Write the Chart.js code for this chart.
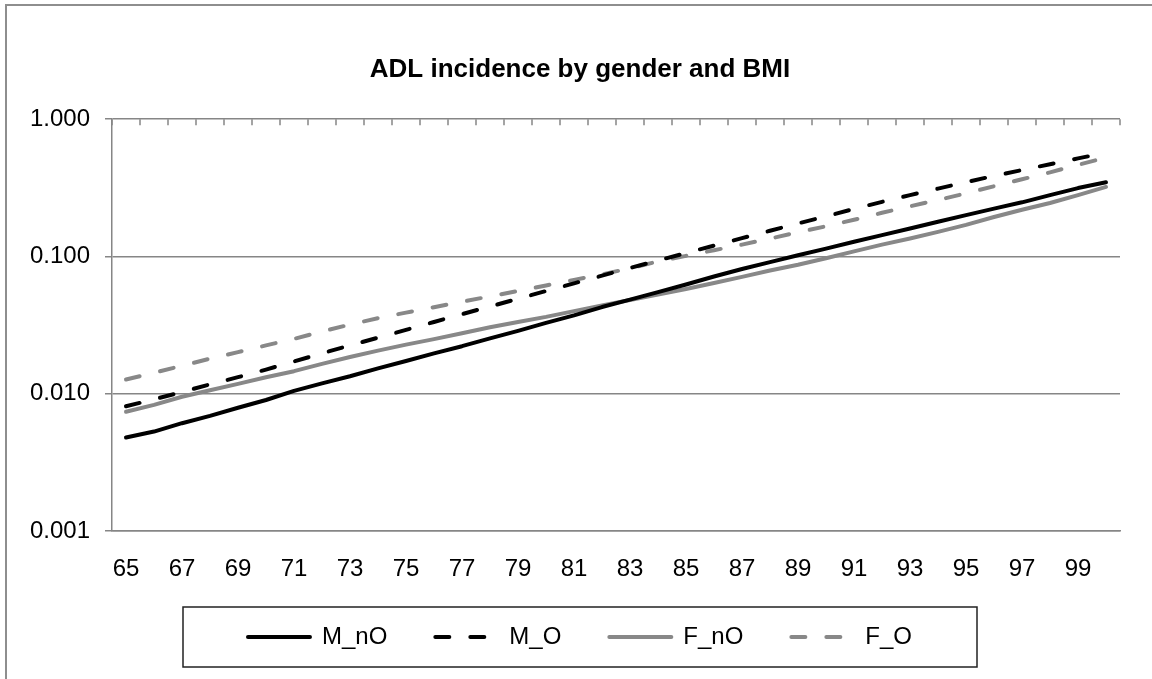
<!DOCTYPE html>
<html><head><meta charset="utf-8">
<script src="https://cdn.jsdelivr.net/npm/chart.js@4.4.1/dist/chart.umd.min.js"></script>
<style>html,body{margin:0;padding:0;background:#fff;overflow:hidden}canvas{display:block}</style>
</head><body>
<canvas id="c" width="1152" height="679"></canvas>
<script>
const ages = ['65','66','67','68','69','70','71','72','73','74','75','76','77','78','79','80','81','82','83','84','85','86','87','88','89','90','91','92','93','94','95','96','97','98','99','100'];
const xTickLabels = ['65','67','69','71','73','75','77','79','81','83','85','87','89','91','93','95','97','99'];
const yTickValues = [0.001, 0.01, 0.1, 1];
const yTickLabels = ['0.001', '0.010', '0.100', '1.000'];
const seriesNames = ['M_nO', 'M_O', 'F_nO', 'F_O'];
const M_nO = [0.0048,0.0053,0.0061,0.0069,0.0079,0.0090,0.0105,0.0119,0.0134,0.0153,0.0173,0.0197,0.0222,0.0253,0.0287,0.0328,0.0372,0.0428,0.0485,0.0550,0.0625,0.0715,0.0810,0.0910,0.1020,0.1140,0.1280,0.1430,0.1600,0.1790,0.2000,0.2230,0.2480,0.2800,0.3150,0.3470];
const M_O = [0.0081,0.0091,0.0103,0.0117,0.0132,0.0150,0.0172,0.0197,0.0225,0.0256,0.0292,0.0333,0.0380,0.0432,0.0492,0.0560,0.0637,0.0725,0.0825,0.0935,0.1060,0.1200,0.1360,0.1540,0.1740,0.1960,0.2220,0.2500,0.2800,0.3120,0.3480,0.3860,0.4260,0.4700,0.5180,0.5700];
const F_nO = [0.0074,0.0083,0.0095,0.0106,0.0118,0.0132,0.0146,0.0165,0.0185,0.0206,0.0228,0.0250,0.0276,0.0305,0.0333,0.0363,0.0400,0.0440,0.0482,0.0528,0.0580,0.0640,0.0710,0.0790,0.0870,0.0970,0.1090,0.1220,0.1350,0.1510,0.1700,0.1940,0.2190,0.2450,0.2800,0.3210];
const F_O = [0.0127,0.0142,0.0160,0.0180,0.0201,0.0225,0.0251,0.0284,0.0319,0.0355,0.0390,0.0427,0.0468,0.0512,0.0560,0.0615,0.0675,0.0740,0.0820,0.0920,0.1010,0.1110,0.1220,0.1350,0.1500,0.1660,0.1850,0.2080,0.2320,0.2580,0.2880,0.3250,0.3650,0.4100,0.4650,0.5250];

const BLACK = '#000000', GRAY = '#888888', AXIS = '#868686';
const DASH = [14, 21];

Chart.defaults.font.family = "'Liberation Sans', Arial, Helvetica, sans-serif";
Chart.defaults.color = '#000';

const frame = {
  id: 'frame',
  beforeDraw(chart) {
    const ctx = chart.ctx;
    ctx.save();
    ctx.fillStyle = '#fff';
    ctx.fillRect(0, 0, chart.width, chart.height);
    ctx.strokeStyle = '#8e8e8e';
    ctx.lineWidth = 2;
    ctx.strokeRect(6, 5, chart.width + 40, chart.height + 40);
    ctx.restore();
  },
  afterDraw(chart) {
    const ctx = chart.ctx, x = chart.scales.x, area = chart.chartArea;
    const step = x.getPixelForValue(1) - x.getPixelForValue(0);
    ctx.save();
    ctx.strokeStyle = AXIS;
    ctx.lineWidth = 1.5;
    ctx.beginPath();
    for (let i = 0; i <= ages.length; i++) {
      const px = x.getPixelForValue(0) - step / 2 + i * step;
      ctx.moveTo(px, area.top);
      ctx.lineTo(px, area.top + 6);
    }
    ctx.stroke();
    const lg = chart.legend, hb = lg.legendHitBoxes;
    if (hb && hb.length) {
      const cx = (Math.min(...hb.map(h => h.left)) + Math.max(...hb.map(h => h.left + h.width))) / 2;
      const cy = hb[0].top + hb[0].height / 2;
      ctx.strokeStyle = '#222';
      ctx.lineWidth = 1.5;
      ctx.strokeRect(cx - 397, cy - 30, 794, 60);
    }
    ctx.restore();
  }
};

function ds(label, data, color, dashed) {
  return {
    label, data,
    borderColor: color, backgroundColor: color,
    borderWidth: 4, borderDash: dashed ? DASH : [],
    borderCapStyle: 'round', borderJoinStyle: 'round',
    pointRadius: 0, pointHoverRadius: 0, tension: 0, fill: false,
    yAxisID: 'y'
  };
}

new Chart(document.getElementById('c'), {
  type: 'line',
  data: {
    labels: ages,
    datasets: [
      ds(seriesNames[0], M_nO, BLACK, false),
      ds(seriesNames[1], M_O, BLACK, true),
      ds(seriesNames[2], F_nO, GRAY, false),
      ds(seriesNames[3], F_O, GRAY, true)
    ]
  },
  options: {
    responsive: false,
    devicePixelRatio: 1,
    animation: false,
    events: [],
    layout: { padding: { left: 24, right: 16, top: 0, bottom: 20 } },
    plugins: {
      title: {
        display: true,
        text: 'ADL incidence by gender and BMI',
        font: { size: 26, weight: 'bold' },
        color: '#000',
        padding: { top: 54, bottom: 34 }
      },
      legend: {
        position: 'bottom',
        labels: {
          usePointStyle: true,
          pointStyle: 'line',
          pointStyleWidth: 62,
          padding: 48,
          font: { size: 24 },
          color: '#000',
          generateLabels(chart) {
            const items = Chart.defaults.plugins.legend.labels.generateLabels(chart);
            items.forEach((it, i) => {
              const d = chart.data.datasets[i];
              it.lineDash = d.borderDash;
              it.lineCap = 'round';
              it.strokeStyle = d.borderColor;
              it.fillStyle = d.borderColor;
              it.lineWidth = 4;
              it.pointStyle = 'line';
            });
            return items;
          }
        }
      },
      tooltip: { enabled: false }
    },
    scales: {
      x: {
        type: 'category',
        offset: true,
        grid: { display: false, offset: true },
        border: { display: true, color: AXIS, width: 1.5 },
        ticks: {
          autoSkip: false, maxRotation: 0, minRotation: 0, padding: 16,
          font: { size: 24 }, color: '#000',
          callback(v, i) { const l = ages[i]; return xTickLabels.includes(l) ? l : ''; }
        },
        afterFit(s) { s.height = 46; }
      },
      y: {
        type: 'logarithmic',
        position: 'left',
        min: yTickValues[0],
        max: yTickValues[yTickValues.length - 1],
        afterBuildTicks(s) { s.ticks = yTickValues.map(v => ({ value: v })); },
        grid: { color: AXIS, lineWidth: 1.5, tickLength: 7, drawTicks: true },
        border: { display: true, color: AXIS, width: 1.5 },
        ticks: {
          padding: 15, font: { size: 24 }, color: '#000',
          callback(v) { const i = yTickValues.indexOf(v); return i >= 0 ? yTickLabels[i] : ''; }
        },
        afterFit(s) { s.width = 88; }
      },
      yRight: {
        type: 'linear',
        position: 'right',
        display: true,
        grid: { display: false, drawTicks: false },
        border: { display: false },
        ticks: { display: false },
        afterFit(s) { s.width = 16; }
      }
    }
  },
  plugins: [frame]
});
</script>
</body></html>
